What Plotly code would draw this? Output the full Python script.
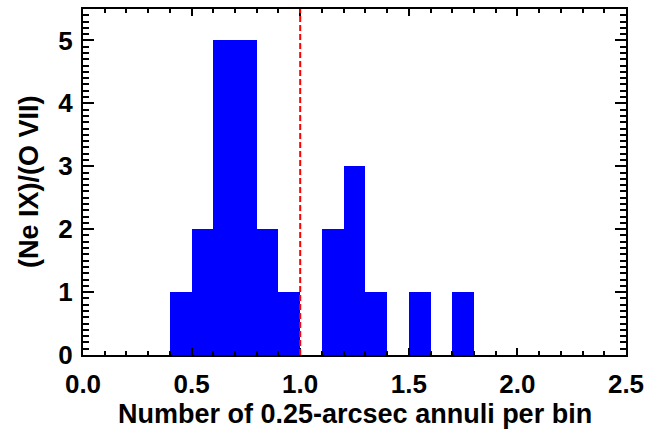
import plotly.graph_objects as go

bin_centers = [0.45, 0.55, 0.65, 0.75, 0.85, 0.95, 1.05, 1.15, 1.25, 1.35, 1.45, 1.55, 1.65, 1.75]
counts = [1, 2, 5, 5, 2, 1, 0, 2, 3, 1, 0, 1, 0, 1]
bin_width = 0.1
threshold = 1.0

x_ticks = [0.0, 0.5, 1.0, 1.5, 2.0, 2.5]
x_labels = ["0.0", "0.5", "1.0", "1.5", "2.0", "2.5"]
y_ticks = [0, 1, 2, 3, 4, 5]
x_title = "Number of 0.25-arcsec annuli per bin"
y_title = "(Ne IX)/(O VII)"

font_family = "Liberation Sans, Arial, sans-serif"
tick_font = dict(family=font_family, size=26, color="black", weight="bold")
title_font = dict(family=font_family, size=27, color="black", weight="bold")

fig = go.Figure()
fig.add_trace(go.Bar(
    x=bin_centers, y=counts, width=[bin_width] * len(bin_centers),
    marker=dict(color="#0000FF", line=dict(width=0)),
    showlegend=False, hoverinfo="skip",
))
fig.add_shape(type="line", x0=threshold, x1=threshold, y0=0, y1=5.5,
              xref="x", yref="y",
              line=dict(color="#FF0000", width=2, dash="6px,3px"))

axis_common = dict(
    showgrid=False, zeroline=False, showline=True, linecolor="black", linewidth=2,
    mirror="ticks", ticks="inside", tickcolor="black", tickwidth=2,
    tickfont=tick_font, automargin=False,
)

fig.update_xaxes(
    range=[0, 2.5], tickvals=x_ticks, ticktext=x_labels, ticklen=7,
    ticklabelstandoff=5,
    minor=dict(dtick=0.1, ticks="inside", ticklen=4, tickwidth=2, tickcolor="black"),
    **axis_common,
)
fig.update_yaxes(
    range=[0, 5.5], tickvals=y_ticks, ticklen=11,
    ticklabelstandoff=3,
    minor=dict(dtick=0.1, ticks="inside", ticklen=6, tickwidth=2, tickcolor="black"),
    **axis_common,
)
fig.add_annotation(text=x_title, xref="paper", yref="paper", x=0.5, y=0,
                   yshift=-59, xanchor="center", yanchor="middle",
                   showarrow=False, font=title_font)
fig.add_annotation(text=y_title, xref="paper", yref="paper", x=0, y=0.5,
                   xshift=-54, xanchor="center", yanchor="middle", textangle=-90,
                   showarrow=False, font=title_font)
fig.update_layout(
    width=665, height=431,
    margin=dict(l=83, r=39, t=9, b=76),
    plot_bgcolor="white", paper_bgcolor="white",
    bargap=0,
    font=dict(family=font_family, color="black"),
)
fig.write_html("out.html", config={"displayModeBar": False},
               post_script="document.body.style.margin='0';document.body.style.overflow='hidden';")
